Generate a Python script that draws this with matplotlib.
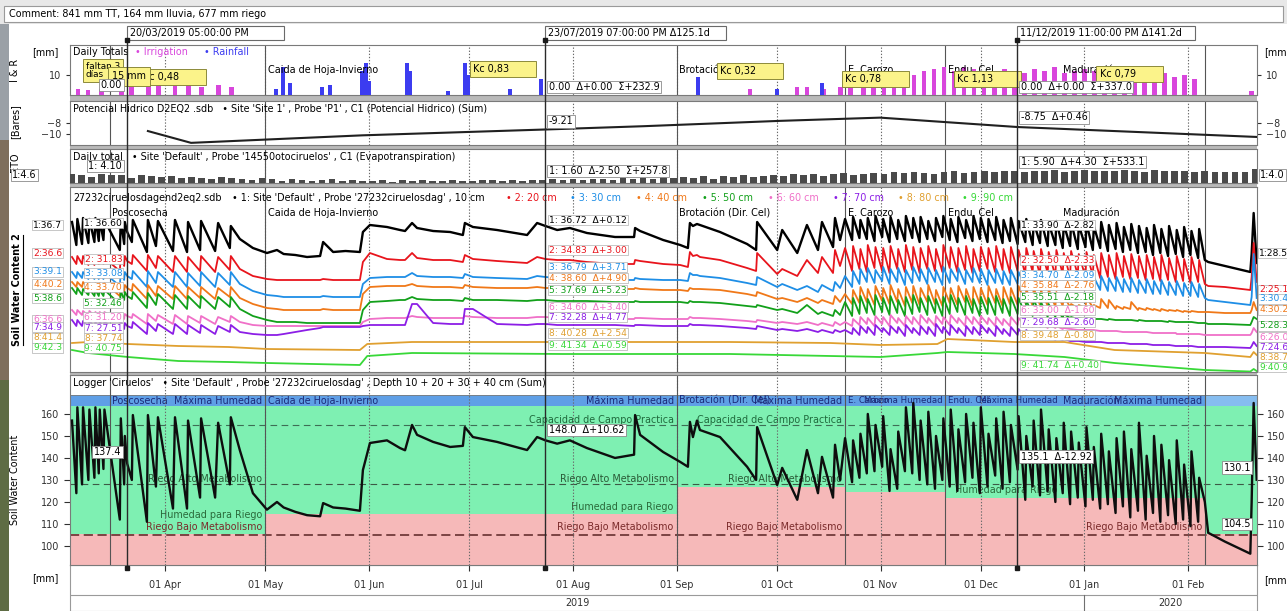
import numpy as np
import matplotlib
matplotlib.use("Agg")
import matplotlib.pyplot as plt
import matplotlib.dates as mdates
import matplotlib.transforms as mtransforms
from matplotlib.patches import Rectangle
from matplotlib.lines import Line2D
from datetime import datetime

plt.rcParams["font.family"] = ["DejaVu Sans"]
plt.rcParams["font.size"] = 6.9

# ---------------- datos (dias desde 01/03/2019) ----------------
dias = [
    # marzo-abril
    3.2, 4.5, 4.8, 6.2, 6.5, 8.1, 8.4, 9.9, 10.2, 11.2, 11.5, 12.6, 12.9, 17.5, 17.8, 18.8, 19.0, 19.71,
    21.1, 21.4, 25.6, 25.9, 28.3, 28.9, 33.4, 34.0, 37.6, 37.9, 41.5, 41.8, 46.0, 46.9, 50.4, 50.7, 53.4, 57.3, 61.5,
    # mayo-octubre
    64.5, 66.5, 70.0, 73.5, 77.4, 78.3, 81.3, 85.0, 89.3, 90.2, 92.3, 97.4, 101.3, 102.8, 104.9, 106.4, 111.2, 116.3,
    120.1, 120.7, 123.1, 130.3, 139.3, 142.3, 144.79, 148.3, 152.1, 157.2, 165.6, 171.3, 171.6, 173.1, 180.0, 185.1,
    187.4, 188.0, 188.9, 190.1, 191.0, 197.0, 205.1, 207.8, 208.1, 214.1, 215.6, 220.1, 223.0, 226.3, 227.5, 230.8,
    231.4, 232.9,
    # riegos frecuentes oct-feb
    234.4, 236.5, 236.8, 238.7, 239.0, 240.9, 241.2, 243.2, 243.5, 245.5, 245.8, 247.7, 248.0, 250.0, 250.3, 252.3,
    252.6, 254.5, 254.8, 256.7, 257.0, 259.0, 259.3, 261.3, 261.6, 263.5, 263.8, 265.7, 266.0, 268.0, 268.3, 270.3,
    270.6, 272.5, 272.8, 274.7, 275.0, 277.0, 277.3, 279.3, 279.6, 281.5, 281.8, 283.7, 284.0, 286.0, 286.3, 288.3,
    288.6, 290.5, 290.8, 292.7, 293.0, 295.0, 295.3, 297.3, 297.6, 299.5, 299.8, 301.7, 302.0, 304.0, 304.3, 306.3,
    306.6, 308.5, 308.8, 310.7, 311.0, 313.0, 313.3, 315.3, 315.6, 317.5, 317.8, 319.7, 320.0, 322.0, 322.3, 324.3,
    324.6, 326.5, 326.8, 328.7, 329.0, 331.0, 331.3, 333.3, 333.6, 335.5, 335.8, 337.7, 338.0, 340.0, 340.3, 342.0,
    # febrero
    343.0, 348.0, 355.6, 356.0, 356.6, 357.5,
]

suma = [
    157, 124, 163, 128, 163, 130, 162, 131, 163, 133, 162, 135, 162, 112, 158, 128, 150, 137.4,
    130, 159.5, 111, 159.5, 127, 158.5, 117, 158.5, 117, 157, 122, 158, 122, 156, 128, 158.5, 143.5, 124, 116.5,
    120, 117.5, 115.5, 114, 113.5, 119.5, 117.5, 117, 116, 134.5, 146.8, 148, 144.5, 143.5, 155, 150.5, 147.3, 145,
    145.5, 154, 149.5, 147.3, 143.6, 149.5, 148.0, 146.5, 148, 144.5, 140, 141.5, 159.5, 150.5, 142.7, 138.2,
    136, 156.4, 149.5, 157, 152.7, 149.5, 136, 130, 154, 127.7, 135.5, 121, 143.6, 124, 140.5, 122,
    146, 130,
    149, 129, 148, 131, 151, 133, 160, 134, 155, 136, 159, 125, 144, 126, 152, 134,
    163, 133, 165, 130, 157, 128, 161, 126, 150, 130, 158, 127, 162, 125, 153, 129,
    160, 131, 156, 124, 163, 127, 151, 132, 158, 126, 161, 129, 155, 134.7, 159, 121,
    150, 127, 157, 123, 162, 125, 153, 120, 149, 124, 156, 119, 152, 122, 147, 118,
    154, 121, 145, 117, 151, 119, 143, 115, 149, 118, 152, 113, 144, 116, 156, 112,
    141, 115, 150, 111, 146, 114, 139, 110, 148, 112, 137, 109, 143, 111, 131, 120,
    106, 102, 96.5, 120, 165, 130.1,
]

# sensores individuales (escala relativa de cada sensor)
s10 = [
    150, 127, 153, 128, 154, 129, 153, 130, 154, 131, 152, 132, 152, 122, 152, 128, 150, 140,
    130, 152, 120, 152, 126, 151, 121, 152, 120, 150, 122, 151, 121, 149, 124, 146, 133, 124, 119,
    122, 118, 117, 115, 116, 130, 120, 121, 120, 140, 147, 145, 142, 141, 149, 144, 141, 140,
    137, 149, 145, 142, 137, 149, 146, 142, 144, 139, 135, 135, 144, 141, 132, 127,
    124, 149, 146, 148, 147, 140, 128, 122, 150, 122, 142, 119, 147, 122, 150, 125,
    154, 132,
    153, 132, 155, 134, 152, 133, 154, 131, 156, 135, 153, 130, 155, 133, 152, 131,
    156, 134, 154, 130, 155, 133, 151, 131, 154, 135, 156, 132, 153, 130, 155, 134,
    152, 131, 156, 133, 154, 130, 153, 132, 155, 129, 152, 131, 154, 128, 151, 130,
    153, 127, 150, 129, 152, 126, 149, 127, 151, 124, 148, 126, 150, 123, 147, 125,
    149, 122, 146, 124, 150, 121, 147, 123, 149, 120, 145, 122, 148, 119, 146, 120,
    144, 117, 147, 119, 143, 116, 146, 118, 142, 115, 145, 117, 141, 114, 143, 112,
    110, 106, 100, 118, 159, 109,
]
s20 = [
    115, 108, 116, 108, 116, 107, 115, 107, 115, 108, 115, 108, 114, 101, 117, 106, 116, 111,
    108, 117, 101, 117, 104, 116, 100, 116, 100, 115, 101, 116, 100, 115, 102, 116, 103, 96, 93,
    92, 92, 92, 92, 92, 93, 92, 92, 92, 110, 119, 113, 112, 112, 119, 114, 112, 112,
    110, 117, 113, 111, 109, 115, 113, 112, 112, 110, 108, 108, 112, 111, 108, 107,
    105, 120, 116, 117, 115, 112, 104, 101, 119, 98, 103, 96, 112, 99, 115, 99,
    122, 106,
    124, 101, 126, 103, 123, 100, 127, 104, 125, 101, 124, 99, 126, 103, 123, 100,
    127, 102, 125, 99, 124, 103, 126, 101, 123, 100, 127, 104, 125, 100, 124, 102,
    126, 99, 123, 101, 125, 103, 124, 100, 126, 102, 123, 99, 125, 101, 122, 98,
    124, 100, 121, 97, 123, 99, 120, 96, 122, 98, 119, 95, 121, 97, 118, 95,
    120, 96, 117, 94, 119, 95, 117, 93, 119, 95, 116, 93, 118, 94, 116, 92,
    117, 93, 115, 91, 117, 92, 114, 90, 116, 91, 113, 89, 115, 90, 112, 88,
    86, 85, 82, 95, 129, 90,
]
s30 = [
    100, 94, 100, 94, 100, 93, 100, 93, 99, 93, 99, 93, 99, 86, 101, 92, 100, 96,
    93, 101, 85, 101, 89, 100, 85, 100, 85, 99, 86, 100, 85, 99, 87, 100, 88, 81, 77,
    76, 75, 75, 75, 75, 76, 75, 75, 75, 88, 94, 95, 95, 95, 99, 96, 95, 95,
    94, 98, 95, 94, 93, 96, 95, 94, 94, 93, 92, 92, 94, 93, 92, 92,
    91, 99, 97, 97, 96, 94, 89, 87, 95, 85, 88, 82, 86, 80, 87, 81,
    90, 84,
    96, 85, 101, 88, 103, 90, 104, 89, 102, 91, 105, 88, 103, 90, 104, 87,
    102, 89, 105, 91, 103, 88, 104, 90, 102, 87, 105, 89, 103, 91, 104, 88,
    102, 90, 104, 89, 103, 87, 102, 89, 103, 88, 101, 87, 102, 88, 100, 86,
    101, 87, 99, 85, 100, 86, 98, 85, 99, 84, 97, 84, 98, 83, 96, 83,
    97, 82, 95, 82, 96, 81, 94, 81, 95, 80, 93, 80, 94, 79, 92, 79,
    93, 78, 91, 78, 92, 77, 90, 77, 91, 76, 89, 76, 90, 75, 88, 74,
    72, 70, 67, 75, 118, 74,
]
s40 = [
    90, 85, 90, 85, 90, 84, 89, 84, 89, 84, 89, 84, 89, 76, 88, 80, 87, 84,
    81, 88, 73, 87, 76, 86, 73, 86, 73, 85, 74, 85, 73, 84, 75, 85, 74, 68, 64,
    63, 62, 62, 62, 62, 63, 62, 62, 62, 78, 85, 86, 86, 86, 88, 86, 85, 85,
    84, 87, 85, 84, 84, 85, 84, 84, 84, 84, 83, 83, 84, 83, 82, 82,
    81, 84, 83, 83, 83, 82, 78, 76, 80, 73, 74, 70, 74, 69, 72, 68,
    76, 70,
    78, 68, 82, 69, 85, 70, 83, 67, 86, 71, 84, 68, 87, 70, 83, 66,
    85, 69, 86, 67, 84, 70, 87, 68, 82, 66, 85, 69, 84, 67, 86, 70,
    83, 66, 85, 68, 84, 67, 86, 69, 83, 66, 85, 68, 84, 67, 86, 69,
    83, 66, 84, 67, 82, 66, 83, 65, 80, 66, 76, 65, 68, 64, 67, 64,
    74, 65, 67, 64, 73, 64, 72, 63, 66, 63, 65, 63, 70, 62, 64, 62,
    64, 62, 63, 61, 63, 61, 62, 61, 62, 60, 61, 60, 61, 60, 60, 60,
    60, 59, 59, 62, 70, 62,
]
s50 = [
    84, 78, 84, 77, 83, 77, 83, 76, 82, 76, 82, 76, 82, 68, 81, 72, 80, 76,
    73, 80, 64, 79, 67, 78, 63, 77, 63, 76, 64, 76, 63, 75, 65, 75, 63, 56, 52,
    50, 50, 50, 49, 49, 49, 49, 49, 49, 62, 70, 71, 72, 72, 75, 73, 72, 72,
    71, 74, 72, 72, 71, 72, 72, 71, 71, 71, 70, 70, 71, 70, 70, 70,
    69, 71, 70, 70, 70, 69, 66, 65, 67, 62, 63, 59, 67, 58, 60, 56,
    62, 57,
    70, 56, 74, 58, 76, 59, 73, 57, 77, 60, 74, 57, 76, 59, 72, 56,
    75, 58, 77, 60, 74, 57, 76, 59, 73, 56, 75, 58, 77, 60, 74, 57,
    76, 59, 73, 56, 75, 58, 74, 57, 76, 59, 73, 56, 75, 58, 74, 57,
    72, 56, 73, 57, 70, 55, 68, 55, 64, 54, 58, 54, 55, 53, 54, 53,
    54, 53, 53, 53, 53, 52, 53, 52, 52, 52, 52, 52, 52, 51, 52, 51,
    51, 51, 51, 51, 51, 50, 51, 50, 50, 50, 50, 50, 50, 49, 49, 49,
    48, 48, 47, 50, 55, 53,
]
s60 = [
    62, 57, 62, 57, 61, 56, 61, 56, 60, 56, 60, 56, 60, 50, 59, 53, 58, 56,
    54, 58, 48, 58, 51, 57, 48, 57, 48, 56, 49, 56, 48, 55, 50, 56, 50, 47, 46,
    46, 46, 46, 46, 46, 46, 46, 46, 46, 50, 53, 54, 54, 54, 56, 55, 54, 54,
    54, 56, 55, 54, 54, 55, 55, 54, 54, 54, 53, 53, 54, 54, 53, 53,
    53, 55, 54, 54, 54, 53, 51, 50, 52, 49, 50, 48, 50, 47, 49, 46,
    50, 47,
    50, 46, 53, 47, 55, 48, 54, 46, 56, 48, 55, 46, 57, 49, 54, 46,
    56, 48, 55, 47, 57, 49, 54, 46, 56, 48, 55, 47, 57, 49, 54, 46,
    56, 48, 55, 47, 56, 48, 54, 46, 55, 47, 53, 46, 55, 47, 54, 46,
    53, 45, 52, 45, 50, 44, 48, 44, 46, 43, 44, 43, 43, 42, 42, 42,
    42, 42, 42, 41, 41, 41, 41, 41, 41, 40, 40, 40, 40, 40, 40, 40,
    40, 39, 39, 39, 39, 39, 39, 39, 38, 38, 38, 38, 38, 38, 38, 37,
    37, 37, 37, 39, 44, 40,
]
s70 = [
    52, 46, 52, 46, 51, 45, 51, 45, 50, 45, 50, 45, 50, 40, 50, 43, 49, 46,
    44, 50, 38, 49, 41, 48, 38, 48, 38, 47, 39, 47, 38, 46, 40, 47, 40, 38, 37,
    37, 38, 40, 42, 44, 45, 45, 45, 45, 46, 47, 47, 47, 47, 68, 68, 49, 48,
    48, 63, 63, 48, 47, 48, 48, 47, 47, 47, 47, 46, 47, 47, 46, 46,
    46, 48, 47, 47, 47, 46, 44, 43, 46, 42, 43, 41, 43, 40, 42, 39,
    42, 40,
    42, 38, 44, 37, 46, 39, 45, 37, 47, 40, 44, 37, 46, 39, 45, 36,
    47, 39, 44, 37, 46, 38, 45, 36, 48, 39, 45, 37, 47, 39, 44, 36,
    46, 38, 45, 37, 47, 39, 44, 36, 46, 38, 43, 36, 45, 37, 43, 35,
    42, 35, 40, 34, 38, 33, 36, 32, 34, 32, 33, 31, 31, 31, 31, 30,
    30, 30, 30, 30, 30, 29, 29, 29, 29, 29, 29, 28, 28, 28, 28, 28,
    28, 27, 27, 27, 27, 27, 27, 26, 26, 26, 26, 26, 26, 25, 25, 25,
    25, 25, 24, 26, 30, 26,
]
# sensores profundos, registro mas espaciado
dias_prof = [3.2, 8, 19.9, 35, 50, 61.5, 89.3, 91.5, 104.9, 150, 200, 230, 245, 262, 265, 285, 300, 315,
             342, 355.6, 356.6, 357.5]
s80 = [29, 30, 28, 26, 25, 23, 22, 28, 30, 30, 30, 29, 27, 28, 33, 30, 30, 22, 19, 15, 20, 17]
s90 = [22, 19, 15, 11, 10, 9, 7, 16, 19, 18, 18, 16, 15, 19, 20, 18, 15, 9, 2, 0.5, 3, 1]

sensores = [s10, s20, s30, s40, s50, s60, s70]
for s in sensores + [suma]:
    assert len(s) == len(dias), len(s)

# riego y lluvia diarios (mm)
dias_riego = [5, 8, 12, 18, 21, 26, 29, 34, 38, 42, 47, 51,
              206, 214, 220, 223, 228, 233, 236, 240, 243, 246, 249, 252, 255, 258, 261, 264, 267, 270,
              273, 276, 279, 282, 285, 288, 291, 294, 297, 300, 303, 306, 309, 312, 315, 318, 321, 324,
              327, 330, 333, 336, 339, 356]
riego_mm = [3, 2.5, 3, 4, 6, 5, 6, 5, 5.5, 4, 5, 4,
            3, 2, 4, 4, 3, 4, 5, 4, 6, 5, 9, 6, 10, 12, 13, 14, 12, 14,
            13, 10, 12, 13, 12, 11, 13, 12, 14, 11, 12, 13, 12, 10, 12, 11, 13, 12,
            10, 11, 9, 10, 8, 2]
dias_lluvia = [64.2, 66.3, 68.4, 78, 80.4, 90, 91.1, 92, 103.4, 104.3, 115.7, 120.7, 121.6, 134.2,
               143.5, 190.4, 214, 227.5]
lluvia_mm = [3, 14, 6, 4, 5, 12, 16, 7, 16, 12, 2, 16, 10, 3, 8, 9, 3, 6]

# evapotranspiracion cada 3 dias (mm)
eto_mm = [4.6, 4.2, 3.1, 4.4, 3.8, 4.1, 2.6, 3.9, 3.5, 2.9,
          3.3, 2.4, 3.0, 2.7, 1.8, 2.9, 2.5, 2.2, 1.6, 2.3,
          1.9, 1.2, 2.0, 1.7, 0.9, 1.5, 1.8, 1.1, 1.4, 0.8,
          1.2, 1.5, 0.7, 1.3, 1.0, 1.6, 0.9, 1.2, 1.4, 0.8,
          1.1, 1.5, 1.3, 0.9, 1.7, 1.2, 1.6, 1.6, 1.8, 1.3,
          1.9, 1.4, 2.2, 2.0, 1.6, 2.4, 2.1, 2.6, 1.9, 2.8,
          2.5, 3.1, 2.7, 3.3, 2.2, 3.5, 3.0, 3.8, 3.2, 3.6,
          4.0, 3.4, 4.3, 3.9, 4.6, 3.7, 4.4, 4.9, 4.1, 4.7,
          5.0, 4.4, 5.3, 4.8, 5.6, 5.1, 4.6, 5.5, 5.8, 5.2,
          5.7, 6.0, 5.4, 6.2, 5.9, 5.6, 6.1, 5.8, 6.3, 5.7,
          6.0, 6.4, 5.8, 6.2, 5.9, 6.5, 6.1, 5.7, 6.3, 6.0,
          5.8, 6.1, 5.5, 5.9, 5.6, 5.3, 5.7, 5.4, 6.8]
dias_eto = np.arange(3, 3 * len(eto_mm) + 1, 3)

# potencial hidrico (bares)
dias_pot = [25.9, 38.8, 90, 144.79, 174, 215, 244.9, 285.96, 357.5]
pot_bar = [-9.5, -11.7, -10.3, -9.21, -8.6, -7.6, -7.0, -8.75, -10.6]

# fases del cultivo y umbral de riego (mm)
fases = ["", "Poscosecha", "Caida de Hoja-Invierno", "Brotación (Dir. Cel)", "E. Carozo",
         "Endu. Cel", "Maduración", ""]
inicio_fase = [2.6, 14.5, 61, 184, 234.4, 264.3, 298.7, 342.1]
umbral_riego = [105.5, 105.5, 114.5, 127, 124.5, 122, 122, 105.5]
cap_campo = 155
riego_alto = 128
riego_bajo = 105

cursores = [19.71, 144.79, 285.96]
etiquetas_cursor = ["20/03/2019 05:00:00 PM", "23/07/2019 07:00:00 PM Δ125.1d", "11/12/2019 11:00:00 PM Δ141.2d"]

colores = ["#000000", "#e8141c", "#1e8ee6", "#f07818", "#12a01a", "#f070c8", "#8c1ee6", "#e0a030", "#38d838"]

# ---------------- figura ----------------
W, H = 1287, 611
fig = plt.figure(figsize=(W / 100, H / 100), dpi=100, facecolor="white")
base = mdates.date2num(datetime(2019, 3, 1))
x0, x1 = base + 2.6, base + 357.6


def fecha(d):
    return base + np.asarray(d, dtype=float)


def caja(a, b, c, d):
    return [a / W, 1 - d / H, (c - a) / W, (d - b) / H]


def rect_px(a, b, c, d, **kw):
    fig.add_artist(Rectangle((a / W, 1 - d / H), (c - a) / W, (d - b) / H,
                             transform=fig.transFigure, **kw))


def txt(x, y, s, **kw):
    kw.setdefault("va", "center")
    fig.text(x / W, 1 - y / H, s, **kw)


caja_blanca = dict(boxstyle="square,pad=0.15", fc="white", ec="#8a8a8a", lw=0.6)
caja_suave = dict(boxstyle="square,pad=0.1", fc="white", ec="#b0b0b0", lw=0.5)

# barra superior y franja izquierda
rect_px(0, 0, W, 24, fc="#e8e8e8", ec="none", zorder=-5)
rect_px(4, 6, 1283, 22, fc="white", ec="#9a9a9a", lw=0.8, zorder=-4)
txt(9, 14, "Comment: 841 mm TT, 164 mm lluvia, 677 mm riego")
rect_px(0, 24, 9, 140, fc="#9aa0a6", ec="none", zorder=-5)
rect_px(0, 140, 9, 380, fc="#7e6e5c", ec="none", zorder=-5)
rect_px(0, 380, 9, H, fc="#5e6c44", ec="none", zorder=-5)

# separadores entre paneles
for a, b in [(95, 101), (145, 149), (183, 187), (372, 375)]:
    rect_px(70, a, 1257, b, fc="#b9b9b9", ec="none", zorder=-3)

ax_ir = fig.add_axes(caja(70, 45, 1257, 95))
ax_pot = fig.add_axes(caja(70, 101, 1257, 145))
ax_eto = fig.add_axes(caja(70, 149, 1257, 183))
ax_sw2 = fig.add_axes(caja(70, 187, 1257, 372))
ax_sw = fig.add_axes(caja(70, 375, 1257, 565))
paneles = [ax_ir, ax_pot, ax_eto, ax_sw2, ax_sw]

for ax in paneles:
    ax.set_xlim(x0, x1)
    for sp in ax.spines.values():
        sp.set_color("#7a7a7a")
        sp.set_linewidth(0.8)
    ax.tick_params(axis="x", bottom=False, labelbottom=False)
    ax.tick_params(axis="y", left=False, labelleft=False, colors="#303030", labelsize=6.9, length=3)

ax_ir.set_ylim(0, 25)
ax_pot.set_ylim(-12.1, -3.9)
ax_eto.set_ylim(0, 17)
ax_sw2.set_ylim(0, 185)
ax_sw.set_ylim(91.36, 177.7)

# lineas verticales: meses (punteadas) y fases (continuas)
meses = [31, 61, 92, 122, 153, 184, 214, 245, 275, 306, 337]
lim_fases = [14.5, 61, 184, 234.4, 264.3, 342.1]
for ax in paneles:
    for m in meses:
        ax.axvline(fecha(m), color="#6a6a6a", ls=(0, (1.2, 1.6)), lw=0.8, zorder=2)
    for f in lim_fases:
        ax.axvline(fecha(f), color="#555555", lw=0.8, zorder=2)


def cabecera(ax, dx, s, color="#000000", dy=-8):
    ax.annotate(s, (0, 1), xycoords="axes fraction", xytext=(dx, dy), textcoords="offset pixels",
                va="center", color=color)


# ---- riego y lluvia ----
ax_ir.bar(fecha(dias_riego), riego_mm, width=1.4, color="#d846dc", zorder=3)
ax_ir.bar(fecha(dias_lluvia), lluvia_mm, width=1.2, color="#3c3cf0", zorder=3)
ax_ir.set_yticks([10])
ax_ir.tick_params(axis="y", left=True, right=True, labelleft=True, labelright=True)
cabecera(ax_ir, 3, "Daily Totals", dy=-7)
cabecera(ax_ir, 65, "• Irrigation", "#d846dc", dy=-7)
cabecera(ax_ir, 134, "• Rainfall", "#3c3cf0", dy=-7)
for nombre, d in zip(fases[2:7], inicio_fase[2:7]):
    ax_ir.text(fecha(d + 0.8), 12.5, nombre.split(" (")[0], va="center", zorder=4)
caja_kc = dict(boxstyle="square,pad=0.35", fc="#fbf38a", ec="#8c8a3a", lw=0.7)
kc = [(24.4, 9, "Kc 0,48"), (123.1, 13, "Kc 0,83"), (197, 12, "Kc 0,32"), (234.4, 8, "Kc 0,78"),
      (268, 8, "Kc 1,13"), (310.5, 10.5, "Kc 0,79")]
for d, y, s in kc:
    ax_ir.text(fecha(d), y, s + "        ", va="center", bbox=caja_kc, zorder=6)
ax_ir.text(fecha(7.3), 12.3, "faltan 3\ndías", fontsize=6.4, va="center", linespacing=0.9,
           bbox=caja_kc, zorder=6)
ax_ir.text(fecha(15.2), 9.3, "15 mm", va="center",
           bbox=dict(boxstyle="square,pad=0.45", fc="#fbf38a", ec="#8c8a3a", lw=0.7), zorder=7)
ax_ir.text(fecha(cursores[0] - 1.5), 5, "0.00", ha="right", va="center", bbox=caja_blanca, zorder=8)
ax_ir.text(fecha(cursores[1] + 1.0), 4, "0.00  Δ+0.00  Σ+232.9", va="center", bbox=caja_blanca, zorder=8)
ax_ir.text(fecha(cursores[2] + 1.0), 4, "0.00  Δ+0.00  Σ+337.0", va="center", bbox=caja_blanca, zorder=8)

# ---- potencial hidrico ----
ax_pot.plot(fecha(dias_pot), pot_bar, color="#202020", lw=1.5, zorder=3)
ax_pot.set_yticks([-8, -10])
ax_pot.tick_params(axis="y", left=True, right=True, labelleft=True, labelright=True)
cabecera(ax_pot, 3, "Potencial Hidrico D2EQ2 .sdb   • Site 'Site 1' , Probe 'P1' , C1 (Potencial Hidrico) (Sum)")
ax_pot.text(fecha(cursores[1] + 1.0), -7.7, "-9.21", va="center", bbox=caja_blanca, zorder=8)
ax_pot.text(fecha(cursores[2] + 1.0), -6.95, "-8.75  Δ+0.46", va="center", bbox=caja_blanca, zorder=8)

# ---- ETo ----
ax_eto.bar(fecha(dias_eto), eto_mm, width=2.0, color="#4a4a4a", zorder=3)
cabecera(ax_eto, 3, "Daily total   • Site 'Default' , Probe '14550otociruelos' , C1 (Evapotranspiration)")
ax_eto.text(fecha(cursores[0] - 1.5), 8.5, "1: 4.10", ha="right", va="center", bbox=caja_blanca, zorder=8)
ax_eto.text(fecha(cursores[1] + 1.0), 6.0, "1: 1.60  Δ-2.50  Σ+257.8", va="center", bbox=caja_blanca, zorder=8)
ax_eto.text(fecha(cursores[2] + 1.0), 10.5, "1: 5.90  Δ+4.30  Σ+533.1", va="center", bbox=caja_blanca, zorder=8)

# ---- contenido de agua por profundidad ----
for i, (s, c) in enumerate(zip(sensores, colores)):
    ax_sw2.plot(fecha(dias), s, color=c, lw=1.7 if i == 0 else 1.3, zorder=3)
ax_sw2.plot(fecha(dias_prof), s80, color=colores[7], lw=1.3, zorder=3)
ax_sw2.plot(fecha(dias_prof), s90, color=colores[8], lw=1.3, zorder=3)
cab = [(3, "27232ciruelosdagend2eq2.sdb", "#000000"),
       (162, "• 1: Site 'Default' , Probe '27232ciruelosdag' , 10 cm", "#000000"),
       (436, "• 2: 20 cm", colores[1]), (500, "• 3: 30 cm", colores[2]), (566, "• 4: 40 cm", colores[3]),
       (632, "• 5: 50 cm", colores[4]), (698, "• 6: 60 cm", colores[5]), (763, "• 7: 70 cm", colores[6]),
       (828, "• 8: 80 cm", colores[7]), (892, "• 9: 90 cm", colores[8])]
for dx, s, c in cab:
    cabecera(ax_sw2, dx, s, c, dy=-11)
for nombre, d in zip(fases[1:7], inicio_fase[1:7]):
    ax_sw2.text(fecha(d + 0.8), 159, nombre, va="center", zorder=4)

val_c1 = ["1: 36.60", "2: 31.83", "3: 33.08", "4: 33.70", "5: 32.46", "6: 31.20", "7: 27.51", "8: 37.74", "9: 40.75"]
val_c2 = ["1: 36.72  Δ+0.12", "2: 34.83  Δ+3.00", "3: 36.79  Δ+3.71", "4: 38.60  Δ+4.90", "5: 37.69  Δ+5.23",
          "6: 34.60  Δ+3.40", "7: 32.28  Δ+4.77", "8: 40.28  Δ+2.54", "9: 41.34  Δ+0.59"]
val_c3 = ["1: 33.90  Δ-2.82", "2: 32.50  Δ-2.33", "3: 34.70  Δ-2.09", "4: 35.84  Δ-2.76", "5: 35.51  Δ-2.18",
          "6: 33.00  Δ-1.60", "7: 29.68  Δ-2.60", "8: 39.48  Δ-0.80", "9: 41.74  Δ+0.40"]
y_c1 = [149, 113, 99, 85, 69, 55, 44, 34, 24]
y_c2 = [152, 122, 105, 94, 82, 65, 55, 39, 27]
y_c3 = [147, 112, 97, 87, 75, 62, 50, 37, 7]
for i in range(9):
    ax_sw2.text(fecha(cursores[0] - 1.5), y_c1[i], val_c1[i], ha="right", va="center", color=colores[i],
                fontsize=6.6, bbox=caja_suave, zorder=8)
    ax_sw2.text(fecha(cursores[1] + 1.0), y_c2[i], val_c2[i], va="center", color=colores[i],
                fontsize=6.6, bbox=caja_suave, zorder=8)
    ax_sw2.text(fecha(cursores[2] + 1.0), y_c3[i], val_c3[i], va="center", color=colores[i],
                fontsize=6.6, bbox=caja_suave, zorder=8)

# ---- suma 10-40 cm con zonas de manejo ----
lims = inicio_fase + [357.6]
for i in range(len(fases)):
    a, b = fecha(lims[i]), fecha(lims[i + 1])
    ax_sw.fill_between([a, b], 91.36, umbral_riego[i], color="#f6b9b9", lw=0, zorder=0)
    ax_sw.fill_between([a, b], umbral_riego[i], 163.6, color="#7ef0b2", lw=0, zorder=0)
    azul = "#86bdf0" if i == len(fases) - 1 else "#5f9fe6"
    ax_sw.fill_between([a, b], 163.6, 168.6, color=azul, lw=0, zorder=0)
ax_sw.axhline(168.6, color="#7a7a7a", lw=0.6, zorder=1)
ax_sw.axhline(cap_campo, color="#3d6e55", lw=0.8, ls=(0, (6, 4)), zorder=1)
ax_sw.axhline(riego_alto, color="#3d5a45", lw=0.8, ls=(0, (6, 4)), zorder=1)
ax_sw.axhline(riego_bajo, color="#5a2424", lw=1.1, ls=(0, (6, 3)), zorder=1)

# rotulos de zona que quedan a la vista en cada fase
rotulos = {
    1: ["alto", "humedad", "bajo"],
    2: ["campo", "alto", "humedad", "bajo"],
    3: ["campo", "alto", "bajo"],
    4: [],
    5: ["humedad"],
    6: ["bajo"],
}
for i in range(1, 7):
    fin = fecha(lims[i + 1] - 0.8)
    tam = 6.2 if i in (4, 5) else 6.9
    ax_sw.text(fecha(lims[i] + 0.8), 166.1, fases[i], va="center", color="#1c2a78", fontsize=tam, zorder=1.5)
    ax_sw.text(fin, 166.1, "Máxima Humedad", ha="right", va="center", color="#1c2a78", fontsize=tam,
               zorder=1.5)
    r = rotulos[i]
    if "campo" in r:
        ax_sw.text(fin, 157.3, "Capacidad de Campo Practica", ha="right", va="center", color="#1f6a3c", zorder=1.5)
    if "alto" in r:
        ax_sw.text(fin, 130.3, "Riego Alto Metabolismo", ha="right", va="center", color="#2a5a36", zorder=1.5)
    if "humedad" in r:
        y_h = umbral_riego[i] + (8.5 if i == 1 else 3.3)
        ax_sw.text(fin, y_h, "Humedad para Riego", ha="right", va="center", color="#2a6a3a", zorder=1.5)
    if "bajo" in r:
        ax_sw.text(fin, 108.6, "Riego Bajo Metabolismo", ha="right", va="center", color="#7a2a2a", zorder=1.5)

ax_sw.plot(fecha(dias), suma, color="#0e0e0e", lw=1.7, zorder=4)
cabecera(ax_sw, 3, "Logger 'Ciruelos'   • Site 'Default' , Probe '27232ciruelosdag' , Depth 10 + 20 + 30 + 40 cm (Sum)")
ax_sw.set_yticks([100, 110, 120, 130, 140, 150, 160])
ax_sw.tick_params(axis="y", left=True, right=True, labelleft=True, labelright=True, length=4)
ax_sw.xaxis.set_major_locator(mdates.MonthLocator(bymonthday=1))
ax_sw.xaxis.set_major_formatter(mdates.DateFormatter("%d %b"))
ax_sw.tick_params(axis="x", bottom=True, labelbottom=True, length=4, pad=7, colors="#303030",
                  labelsize=6.9)
ax_sw.text(fecha(cursores[0] - 1.8), 142.7, "137.4", ha="right", va="center", bbox=caja_blanca, zorder=8)
ax_sw.text(fecha(cursores[1] + 1.0), 152.7, "148.0  Δ+10.62", va="center", bbox=caja_blanca, zorder=8)
ax_sw.text(fecha(cursores[2] + 1.0), 140.5, "135.1  Δ-12.92", va="center", bbox=caja_blanca, zorder=8)
ax_sw.text(fecha(355.8), 135.5, "130.1", ha="right", va="center", bbox=caja_blanca, zorder=8)
ax_sw.text(fecha(355.8), 110, "104.5", ha="right", va="center", bbox=caja_blanca, zorder=8)

# ---- fila de años ----
ax_an = fig.add_axes(caja(70, 565, 1257, 611))
ax_an.set_xlim(x0, x1)
ax_an.set_ylim(0, 46)
ax_an.patch.set_alpha(0)
ax_an.set_zorder(-1)
ax_an.set_xticks([])
ax_an.set_yticks([])
for sp in ax_an.spines.values():
    sp.set_color("#9a9a9a")
    sp.set_linewidth(0.8)
ax_an.axhline(16, color="#9a9a9a", lw=0.8)
ene = base + 306
ax_an.plot([ene, ene], [0, 16], color="#707070", lw=0.8)
ax_an.text((x0 + ene) / 2, 8, "2019", ha="center", va="center", color="#303030")
ax_an.text((ene + x1) / 2, 8, "2020", ha="center", va="center", color="#303030")

# ---- cursores verticales ----
tr = mtransforms.blended_transform_factory(ax_sw.transData, fig.transFigure)
anchos = [47, 54, 53]
for d, s, w in zip(cursores, etiquetas_cursor, anchos):
    xd = fecha(d)
    fig.add_artist(Line2D([xd, xd], [1 - 568 / H, 1 - 40 / H], transform=tr, color="#2a2a2a", lw=1.0,
                          zorder=20))
    fig.add_artist(Line2D([xd, xd], [1 - 568 / H, 1 - 40 / H], transform=tr, ls="none", marker="s",
                          ms=2.4, color="#1a1a1a", zorder=21))
    fig.add_artist(Rectangle((xd, 1 - 40 / H), w, 14 / H, transform=tr, fc="white", ec="#6a6a6a",
                             lw=0.8, zorder=19))
    fig.text(xd + 0.8, 1 - 33 / H, s, transform=tr, va="center", zorder=22)

# ---- rotulos laterales ----
txt(15, 70, "I & R", rotation=90, ha="center")
txt(45, 52, "[mm]", ha="center")
txt(15, 122, "[Bares]", rotation=90, ha="center")
txt(15, 162, "ETO", rotation=90, ha="center")
txt(17, 290, "Soil Water Content 2", rotation=90, ha="center", fontweight="bold")
fig.add_artist(Line2D([23 / W, 23 / W], [1 - 345 / H, 1 - 235 / H], transform=fig.transFigure,
                      color="black", lw=0.8))
txt(15, 480, "Soil Water Content", rotation=90, ha="center")
txt(45, 578, "[mm]", ha="center")
txt(1264, 52, "[mm", ha="left")
txt(1264, 580, "[mm", ha="left")
txt(12, 175, "1:4.6", ha="left", bbox=caja_blanca)
txt(1260, 175, "1:4.0", ha="left", bbox=caja_blanca)

izq = ["1:36.7", "2:36.6", "3:39.1", "4:40.2", "5:38.6", "6:36.6", "7:34.9", "8:41.4", "9:42.3"]
y_izq = [225, 253, 272, 284, 298, 320, 327, 338, 348]
der = ["1:28.5", "2:25.1", "3:30.4", "4:30.2", "5:28.3", "6:26.0", "7:24.6", "8:38.7", "9:40.9"]
y_der = [253, 290, 299, 310, 326, 337, 347, 357, 367]
for i in range(9):
    txt(33, y_izq[i], izq[i], ha="left", color=colores[i], fontsize=6.6, bbox=caja_suave)
    txt(1259, y_der[i], der[i], ha="left", color=colores[i], fontsize=6.6, bbox=caja_suave)

fig.savefig("out.png", dpi=100, facecolor="white")
